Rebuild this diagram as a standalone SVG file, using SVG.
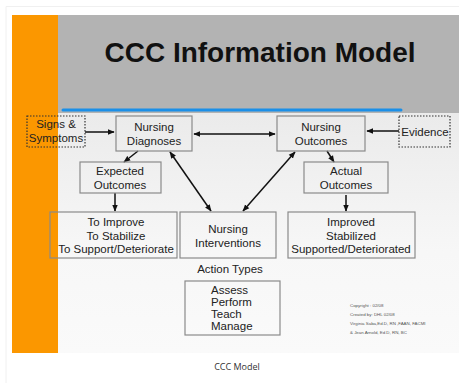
<svg xmlns="http://www.w3.org/2000/svg" width="459" height="383" viewBox="0 0 459 383">
<defs>
<linearGradient id="bg" x1="0" y1="0" x2="0" y2="1">
<stop offset="0" stop-color="#e2e2e2"/>
<stop offset="0.7" stop-color="#f7f7f7"/>
<stop offset="1" stop-color="#fafafa"/>
</linearGradient>
<marker id="ah" viewBox="0 0 10 10" refX="9" refY="5" markerWidth="7" markerHeight="7" orient="auto-start-reverse" markerUnits="userSpaceOnUse">
<path d="M0,1 L10,5 L0,9 z" fill="#111"/>
</marker>
<style>
.t{font-family:"Liberation Sans",Arial,sans-serif;font-size:11.5px;fill:#222;text-anchor:middle}
.box{fill:none;stroke:#8a8a8a;stroke-width:1.2}
.dot{fill:none;stroke:#333;stroke-width:1.2;stroke-dasharray:1.5 1.5}
.c{stroke:#111;stroke-width:1.5;fill:none;marker-end:url(#ah)}
.cc{stroke:#111;stroke-width:1.5;fill:none;marker-end:url(#ah);marker-start:url(#ah)}
.s{font-family:"Liberation Sans",Arial,sans-serif;font-size:4.4px;fill:#555}
</style>
</defs>
<rect width="459" height="383" fill="#fff"/>
<path d="M6,383 V6.5 H459" fill="none" stroke="#f0f0f0" stroke-width="1"/>
<rect x="12" y="15" width="447" height="338" fill="url(#bg)"/>
<rect x="58" y="15" width="401" height="98" fill="#b3b3b3"/>
<rect x="12" y="15" width="46" height="338" fill="#fb9700"/>
<line x1="63" y1="110" x2="401" y2="110" stroke="#1a8fe8" stroke-width="3" stroke-linecap="round"/>
<text x="260" y="62" font-family="'Liberation Sans',Arial,sans-serif" font-size="28" font-weight="bold" fill="#111" text-anchor="middle">CCC Information Model</text>

<g id="connectors">
<line class="c" x1="85" y1="132" x2="114" y2="132"/>
<line class="cc" x1="194" y1="134" x2="275" y2="134"/>
<line class="c" x1="399" y1="131" x2="367" y2="131"/>
<line class="c" x1="138" y1="151" x2="124" y2="162"/>
<line class="c" x1="115" y1="193" x2="115" y2="211"/>
<line class="cc" x1="170" y1="152" x2="211" y2="211"/>
<line class="cc" x1="295" y1="152" x2="243" y2="211"/>
<line class="c" x1="327" y1="151" x2="334" y2="162"/>
<line class="c" x1="346" y1="195" x2="346" y2="211"/>
</g>

<g id="signs">
<rect class="dot" x="27" y="116" width="58" height="31"/>
<text class="t" x="56" y="128">Signs &amp;</text>
<text class="t" x="56" y="142">Symptoms</text>
</g>
<g id="diagnoses">
<rect class="box" x="116" y="116" width="76" height="35"/>
<text class="t" x="154" y="131">Nursing</text>
<text class="t" x="154" y="145">Diagnoses</text>
</g>
<g id="outcomes">
<rect class="box" x="277" y="116" width="88" height="35"/>
<text class="t" x="321" y="131">Nursing</text>
<text class="t" x="321" y="145">Outcomes</text>
</g>
<g id="evidence">
<rect class="dot" x="399" y="116" width="51" height="31"/>
<text class="t" x="425" y="136">Evidence</text>
</g>
<g id="expected">
<rect class="box" x="80" y="162" width="81" height="31"/>
<text class="t" x="120" y="175">Expected</text>
<text class="t" x="120" y="189">Outcomes</text>
</g>
<g id="actual">
<rect class="box" x="304" y="162" width="84" height="31"/>
<text class="t" x="346" y="175">Actual</text>
<text class="t" x="346" y="189">Outcomes</text>
</g>
<g id="toimprove">
<rect class="box" x="50" y="212" width="127" height="46"/>
<text class="t" x="116" y="226">To Improve</text>
<text class="t" x="116" y="240">To Stabilize</text>
<text class="t" x="116" y="253">To Support/Deteriorate</text>
</g>
<g id="interventions">
<rect class="box" x="180" y="212" width="96" height="46"/>
<text class="t" x="228" y="233">Nursing</text>
<text class="t" x="228" y="247">Interventions</text>
</g>
<g id="improved">
<rect class="box" x="288" y="212" width="127" height="46"/>
<text class="t" x="351" y="226">Improved</text>
<text class="t" x="351" y="240">Stabilized</text>
<text class="t" x="351" y="253">Supported/Deteriorated</text>
</g>
<g id="actiontypes">
<text class="t" x="230" y="273">Action Types</text>
<rect class="box" x="185" y="281" width="95" height="54"/>
<text class="t" x="211" y="294" style="text-anchor:start">Assess</text>
<text class="t" x="211" y="306" style="text-anchor:start">Perform</text>
<text class="t" x="211" y="318" style="text-anchor:start">Teach</text>
<text class="t" x="211" y="330" style="text-anchor:start">Manage</text>
</g>
<g id="copyright">
<text class="s" x="350" y="307">Copyright : 02/08</text>
<text class="s" x="350" y="316">Created by: DHL 02/08</text>
<text class="s" x="350" y="325">Virginia Saba,Ed.D,  RN ,FAAN,  FACMI</text>
<text class="s" x="350" y="334">&amp; Jean Arnold, Ed.D,  RN, BC</text>
</g>
<text x="237" y="370" font-family="'Open Sans','Liberation Sans',sans-serif" font-size="9" fill="#333" text-anchor="middle">CCC Model</text>
</svg>
